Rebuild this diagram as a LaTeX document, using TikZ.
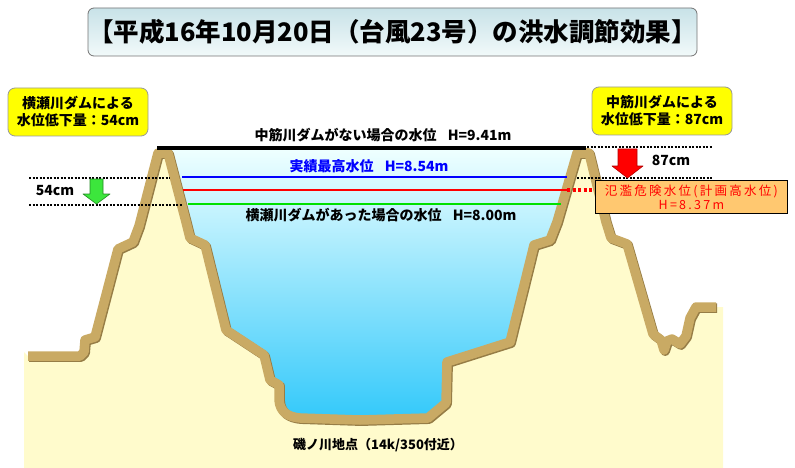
\documentclass[tikz,border=0pt]{standalone}
\usepackage{fontspec}
\setmainfont{Noto Sans CJK JP}
\newfontfamily\spacedjp{Noto Sans CJK JP}[LetterSpace=18]
\definecolor{cream}{RGB}{255,251,204}
\definecolor{soil}{RGB}{201,170,100}
\definecolor{soildark}{RGB}{150,125,70}
\definecolor{watertop}{RGB}{238,255,255}
\definecolor{waterbot}{RGB}{48,200,250}
\definecolor{boxyellow}{RGB}{255,255,0}
\definecolor{boxorange}{RGB}{255,200,112}
\definecolor{titletop}{RGB}{200,226,232}
\definecolor{titlebot}{RGB}{242,250,250}
\definecolor{lvlgreen}{RGB}{0,225,0}
\definecolor{arrowgreen}{RGB}{60,230,60}
\begin{document}
\begin{tikzpicture}[x=1pt,y=-1pt,
  lbl/.style={font=\bfseries\fontsize{14}{16}\selectfont, inner sep=0pt},
  notebox/.style={draw=black!40, fill=boxyellow, rounded corners=7pt, line width=0.8pt,
    font=\bfseries\fontsize{14}{17}\selectfont, align=center, inner sep=0pt,
    minimum width=140pt, minimum height=48pt},
  guide/.style={black, line width=1.3pt, dash pattern=on 2pt off 1.5pt},
  level/.style={line width=2.4pt}]
\useasboundingbox (0,0) rectangle (795,468);

% river channel water
\fill[top color=watertop, bottom color=waterbot] (160,150) rectangle (586,424);

% ground profile (centre line of the bank outline)
\def\bank{(28,356) -- (80,356) -- (84,352) -- (85,340) -- (95,337) -- (118,249)
  -- (133,242) -- (139,226) -- (158,153) -- (168,153) -- (186,222) -- (190,238)
  -- (205,245) -- (226,330) -- (264,355) -- (270,380) -- (279,385) -- (279,400)
  .. controls (280,412) and (288,417) .. (300,418) -- (360,420) -- (428,418)
  -- (446,403) -- (447,362) -- (510,342) -- (534,245) -- (550,240) -- (557,222)
  -- (577,153) -- (589,153) -- (606,222) -- (611,238) -- (627,244) -- (653,334)
  -- (661,340) -- (664,350) -- (667,341) -- (672,339) -- (680,344) -- (686,336)
  -- (690,318) -- (696,307) -- (716,307)}
\fill[cream] (24,352) -- \bank -- (723,307) -- (723,468) -- (24,468) -- cycle;
\draw[soildark, line width=9.5pt, line join=round, shift={(1.2,1.2)}] \bank;
\draw[soil, line width=9.5pt, line join=round] \bank;

% water levels
\coordinate (nodamL) at (157,148);  \coordinate (nodamR) at (586,148);
\coordinate (maxL)   at (182,177);  \coordinate (maxR)   at (567,177);
\coordinate (planL)  at (183,190);  \coordinate (planR)  at (567,190);
\coordinate (planE)  at (596,190);
\coordinate (damL)   at (188,204);  \coordinate (damR)   at (561,204);
\draw[black, line width=3.6pt] (nodamL) -- (nodamR);
\draw[level, blue] (maxL) -- (maxR);
\draw[level, red, line width=2pt] (planL) -- (planR);
\draw[red, line width=3.6pt, dash pattern=on 3pt off 2.5pt] (planR) -- (planE);
\draw[level, lvlgreen] (damL) -- (damR);

\node[lbl] (tnodam) at (383,135) {中筋川ダムがない場合の水位\hspace{0.8em}H=9.41m};
\node[lbl, text=blue] (tmax) at (369,166) {実績最高水位\hspace{0.8em}H=8.54m};
\node[lbl] (tdam) at (381,215) {横瀬川ダムがあった場合の水位\hspace{0.8em}H=8.00m};

% left: drop caused by the Yokosegawa dam
\coordinate (gL1) at (29,178);  \coordinate (gL1e) at (170,178);
\coordinate (gL2) at (29,205);  \coordinate (gL2e) at (183,205);
\draw[guide] (gL1) -- (gL1e);
\draw[guide] (gL2) -- (gL2e);
\node[lbl] (d54) at (55,191) {54cm};
\draw[arrowgreen!60!black, fill=arrowgreen, line width=0.6pt, line join=round]
  (90,179) -- (103,179) -- (103,194) -- (110,194) -- (96.5,204) -- (83,194) -- (90,194) -- cycle;
\node[notebox] (boxL) at (78,112) {横瀬川ダムによる\\水位低下量：54cm};

% right: drop caused by the Nakasujigawa dam
\coordinate (gR1) at (587,147);  \coordinate (gR1e) at (712,147);
\coordinate (gR2) at (577,178);  \coordinate (gR2e) at (712,178);
\draw[guide] (gR1) -- (gR1e);
\draw[guide] (gR2) -- (gR2e);
\node[lbl] (d87) at (671,160) {87cm};
\draw[red!70!black, fill=red, line width=0.6pt, line join=round]
  (618,149) -- (637,149) -- (637,166) -- (643,166) -- (627.5,178) -- (612,166) -- (618,166) -- cycle;
\node[notebox] (boxR) at (662,111) {中筋川ダムによる\\水位低下量：87cm};

% flood danger level
\node[draw=black, line width=0.8pt, fill=boxorange, anchor=north west, inner sep=0pt,
  minimum width=192pt, minimum height=33pt, align=center, text=red,
  font=\spacedjp\fontsize{12.5}{14}\selectfont] (danger) at (595,180)
  {氾濫危険水位(計画高水位)\\H=8.37m};

% title and location
\node[draw=black!55, line width=0.8pt, rounded corners=6pt, top color=titletop,
  bottom color=titlebot, minimum width=609pt, minimum height=48pt, inner sep=0pt,
  font=\bfseries\fontsize{25.5}{28}\selectfont] (title) at (392.5,32)
  {【平成16年10月20日（台風23号）の洪水調節効果】};
\node[lbl, font=\bfseries\fontsize{13}{15}\selectfont] (site) at (378,445)
  {磯ノ川地点（14k/350付近）};
\end{tikzpicture}
\end{document}
